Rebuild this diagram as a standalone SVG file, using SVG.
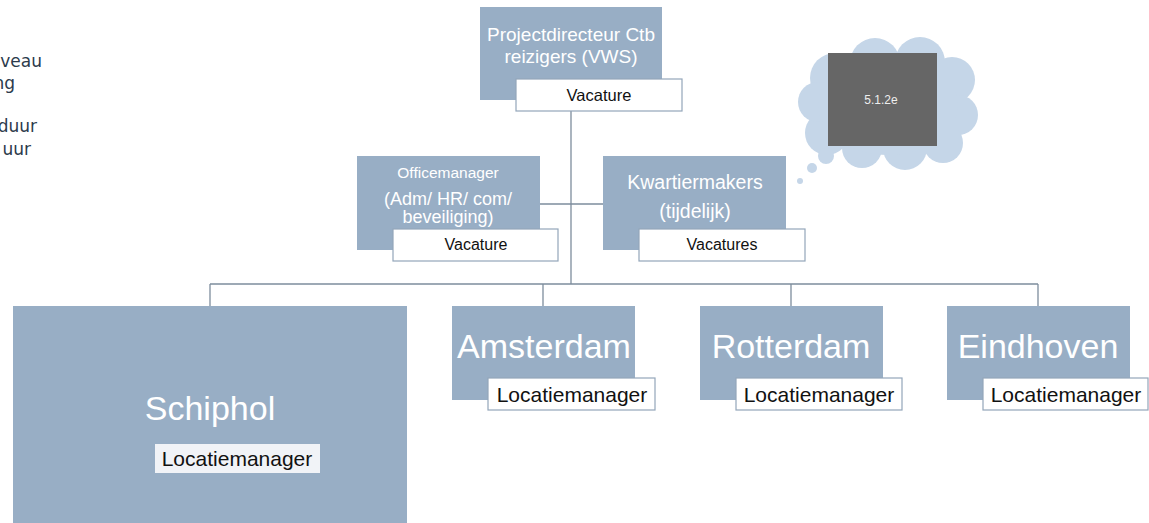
<svg xmlns="http://www.w3.org/2000/svg" width="1149" height="523" viewBox="0 0 1149 523">
<style>
.blue{fill:#98aec5}
.lbl{fill:#fff;stroke:#93a6ba;stroke-width:1.2}
.wt{fill:#fff;font-family:"Liberation Sans",Arial,sans-serif;text-anchor:middle}
.bt{fill:#111;font-family:"Liberation Sans",Arial,sans-serif;text-anchor:middle}
.side{fill:#2c3b4c;font-family:"DejaVu Sans",Verdana,sans-serif;font-size:17px;text-anchor:end}
.cl{fill:#c5d6e8}
</style>
<rect width="1149" height="523" fill="#fff"/>
<g id="side-text">
<text class="side" x="42" y="67">veau</text>
<text class="side" x="15" y="89">ng</text>
<text class="side" x="37" y="132">duur</text>
<text class="side" x="31" y="155">uur</text>
</g>
<g id="connectors" stroke="#7d8d9d" stroke-width="1.3" fill="none">
<line x1="571" y1="111" x2="571" y2="284"/>
<line x1="540" y1="204" x2="603" y2="204"/>
<line x1="210" y1="284" x2="1038" y2="284"/>
<line x1="210" y1="284" x2="210" y2="306"/>
<line x1="543" y1="284" x2="543" y2="306"/>
<line x1="791" y1="284" x2="791" y2="306"/>
<line x1="1038" y1="284" x2="1038" y2="306"/>
</g>
<g id="cloud">
<circle class="cl" cx="835" cy="78" r="25"/>
<circle class="cl" cx="875" cy="63" r="25"/>
<circle class="cl" cx="920" cy="62" r="25"/>
<circle class="cl" cx="952" cy="80" r="23"/>
<circle class="cl" cx="958" cy="115" r="20"/>
<circle class="cl" cx="943" cy="143" r="20"/>
<circle class="cl" cx="905" cy="148" r="22"/>
<circle class="cl" cx="862" cy="148" r="20"/>
<circle class="cl" cx="827" cy="133" r="22"/>
<circle class="cl" cx="818" cy="102" r="20"/>
<ellipse class="cl" cx="888" cy="105" rx="70" ry="50"/>
<circle class="cl" cx="826" cy="156" r="8"/>
<circle class="cl" cx="812" cy="168" r="5"/>
<circle class="cl" cx="800" cy="181" r="3"/>
<rect x="828" y="53" width="109" height="93" fill="#666"/>
<text x="881" y="104" fill="#eee" font-family="Liberation Sans,Arial,sans-serif" font-size="12" text-anchor="middle">5.1.2e</text>
</g>
<g id="projectdirecteur">
<rect class="blue" x="480" y="7" width="182" height="93"/>
<text class="wt" x="571" y="41" font-size="19">Projectdirecteur Ctb</text>
<text class="wt" x="571" y="63" font-size="19">reizigers (VWS)</text>
<rect class="lbl" x="516" y="79" width="166" height="32"/>
<text class="bt" x="599" y="101" font-size="16.5">Vacature</text>
</g>
<g id="officemanager">
<rect class="blue" x="357" y="156" width="183" height="94"/>
<text class="wt" x="448" y="178" font-size="15.5">Officemanager</text>
<text class="wt" x="448" y="205" font-size="18">(Adm/ HR/ com/</text>
<text class="wt" x="448" y="223" font-size="18">beveiliging)</text>
<rect class="lbl" x="393" y="229" width="165" height="32"/>
<text class="bt" x="476" y="250" font-size="16">Vacature</text>
</g>
<g id="kwartiermakers">
<rect class="blue" x="603" y="156" width="183" height="94"/>
<text class="wt" x="695" y="189" font-size="19.5">Kwartiermakers</text>
<text class="wt" x="695" y="218" font-size="19.5">(tijdelijk)</text>
<rect class="lbl" x="639" y="229" width="166" height="32"/>
<text class="bt" x="722" y="250" font-size="16">Vacatures</text>
</g>
<g id="schiphol">
<rect class="blue" x="13" y="306" width="394" height="217"/>
<text class="wt" x="210" y="420" font-size="34">Schiphol</text>
<rect x="155" y="444" width="165" height="29" fill="#f1f3f7"/>
<text class="bt" x="237" y="466" font-size="21">Locatiemanager</text>
</g>
<g id="amsterdam">
<rect class="blue" x="452" y="306" width="183" height="94"/>
<text class="wt" x="544" y="358" font-size="34">Amsterdam</text>
<rect class="lbl" x="488" y="378" width="167" height="32"/>
<text class="bt" x="572" y="402" font-size="21">Locatiemanager</text>
</g>
<g id="rotterdam">
<rect class="blue" x="700" y="306" width="183" height="94"/>
<text class="wt" x="791" y="358" font-size="34">Rotterdam</text>
<rect class="lbl" x="736" y="378" width="166" height="32"/>
<text class="bt" x="819" y="402" font-size="21">Locatiemanager</text>
</g>
<g id="eindhoven">
<rect class="blue" x="947" y="306" width="183" height="94"/>
<text class="wt" x="1038" y="358" font-size="34">Eindhoven</text>
<rect class="lbl" x="983" y="378" width="165" height="32"/>
<text class="bt" x="1066" y="402" font-size="21">Locatiemanager</text>
</g>
</svg>
